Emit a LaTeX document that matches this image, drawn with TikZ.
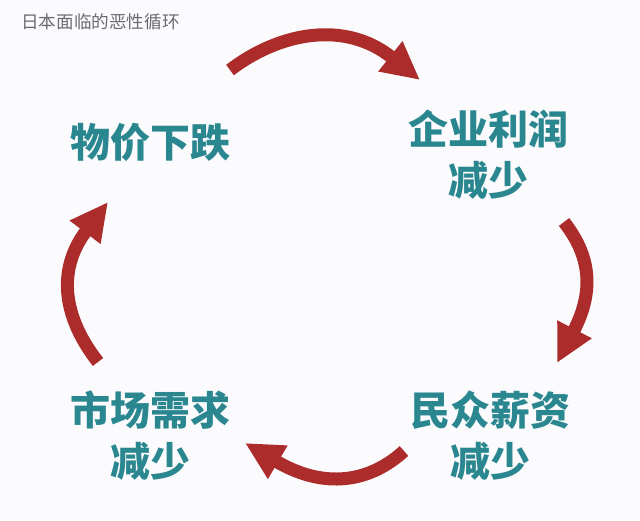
\documentclass[tikz,border=0pt]{standalone}
\usepackage{fontspec}
\newfontfamily\cjk{Noto Sans CJK SC}
\usetikzlibrary{arrows.meta}
\definecolor{bgwhite}{HTML}{FBFBFD}
\definecolor{titlegray}{HTML}{6B6B74}
\definecolor{labelteal}{HTML}{2A8790}
\definecolor{arrowred}{HTML}{AC2C2C}
\tikzset{
  label/.style={text=labelteal,align=center,inner sep=0pt,
    font=\cjk\bfseries\fontsize{40}{51}\selectfont},
  cycle/.style={draw=arrowred,line width=13pt,
    -{Triangle[length=38pt,width=36pt]}}
}

\begin{document}
\begin{tikzpicture}[x=1pt,y=-1pt]
   \fill[bgwhite] (0,0) rectangle (640,520);
   \useasboundingbox (0,0) rectangle (640,520);
   \node[anchor=west,text=titlegray,inner sep=0pt,font=\cjk\fontsize{17.6}{20}\selectfont]
     (title) at (21,22) {日本面临的恶性循环};
   \node[label] (price) at (150,142) {物价下跌};
   \node[label] (profit) at (488,155) {企业利润\\减少};
   \node[label] (wage) at (490,436) {民众薪资\\减少};
   \node[label] (demand) at (150,436) {市场需求\\减少};
   \coordinate (a1) at (230,70);  \coordinate (b1) at (420,80);
   \coordinate (a2) at (564,222); \coordinate (b2) at (557,363);
   \coordinate (a3) at (404,451); \coordinate (b3) at (245,443);
   \coordinate (a4) at (98,362);  \coordinate (b4) at (108,202);
   \draw[cycle] (a1) .. controls (280,32) and (345,20) .. (b1);
   \draw[cycle] (a2) .. controls (590,255) and (595,290) .. (b2);
   \draw[cycle] (a3) .. controls (370,482) and (325,490) .. (b3);
   \draw[cycle] (a4) .. controls (65,320) and (55,272) .. (b4);
  \end{tikzpicture}
\end{document}
